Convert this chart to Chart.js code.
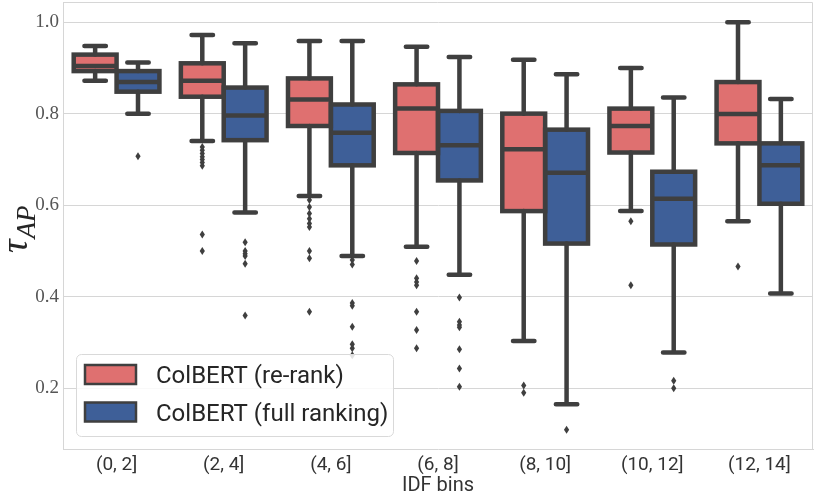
<!DOCTYPE html>
<html>
<head>
<meta charset="utf-8">
<script src="https://cdn.jsdelivr.net/npm/chart.js@4.4.1/dist/chart.umd.min.js"></script>
<style>
  html, body { margin: 0; padding: 0; background: #fff; }
  #wrap { width: 814px; height: 494px; }
</style>
</head>
<body>
<div id="wrap"><canvas id="boxChart" width="814" height="494"></canvas></div>
<script>
// IDF bins
const bins = ['(0, 2]', '(2, 4]', '(4, 6]', '(6, 8]', '(8, 10]', '(10, 12]', '(12, 14]'];
const yTicks = [0.2, 0.4, 0.6, 0.8, 1.0];
const seriesNames = ['ColBERT (re-rank)', 'ColBERT (full ranking)'];

// ColBERT (re-rank)
const rerankLo  = [0.872, 0.740, 0.620, 0.509, 0.303, 0.587, 0.565];
const rerankQ1  = [0.893, 0.837, 0.773, 0.714, 0.587, 0.715, 0.735];
const rerankMed = [0.904, 0.872, 0.831, 0.811, 0.722, 0.773, 0.799];
const rerankQ3  = [0.929, 0.910, 0.877, 0.864, 0.800, 0.811, 0.869];
const rerankHi  = [0.948, 0.972, 0.959, 0.946, 0.918, 0.900, 1.000];
const rerankOut = [
    [],
    [0.727, 0.720, 0.713, 0.706, 0.700, 0.693, 0.686, 0.536, 0.500],
    [0.611, 0.596, 0.582, 0.570, 0.560, 0.552, 0.500, 0.484, 0.367],
    [0.478, 0.440, 0.432, 0.425, 0.367, 0.327, 0.287],
    [0.206, 0.190],
    [0.565, 0.425],
    [0.466]
];

// ColBERT (full ranking)
const fullLo  = [0.800, 0.584, 0.489, 0.448, 0.165, 0.278, 0.407];
const fullQ1  = [0.848, 0.742, 0.687, 0.654, 0.516, 0.514, 0.603];
const fullMed = [0.869, 0.796, 0.758, 0.731, 0.671, 0.614, 0.687];
const fullQ3  = [0.893, 0.857, 0.820, 0.806, 0.765, 0.673, 0.735];
const fullHi  = [0.912, 0.954, 0.959, 0.924, 0.886, 0.835, 0.832];
const fullOut = [
    [0.707],
    [0.519, 0.500, 0.494, 0.489, 0.472, 0.359],
    [0.480, 0.470, 0.386, 0.380, 0.334, 0.296, 0.287, 0.272],
    [0.398, 0.345, 0.338, 0.333, 0.285, 0.243, 0.203],
    [0.109],
    [0.216, 0.200],
    []
];

const stats = [
    { lo: rerankLo, q1: rerankQ1, med: rerankMed, q3: rerankQ3, hi: rerankHi, out: rerankOut },
    { lo: fullLo, q1: fullQ1, med: fullMed, q3: fullQ3, hi: fullHi, out: fullOut }
];

const colors = ['#df7070', '#3e5f98'];
const LINE = '#3f3f3f';
const GRID = '#d6d6d6';

// whiskers, caps, outlines, medians and fliers on top of the floating bars
const boxPlugin = {
    id: 'boxPlot',
    beforeDatasetsDraw(chart) {
        const { ctx, chartArea } = chart;
        ctx.save();
        ctx.strokeStyle = GRID;
        ctx.lineWidth = 1;
        ctx.beginPath();
        ctx.moveTo(chartArea.left, chartArea.top + 0.5);
        ctx.lineTo(chartArea.right - 0.5, chartArea.top + 0.5);
        ctx.lineTo(chartArea.right - 0.5, chartArea.bottom);
        ctx.stroke();
        ctx.restore();
    },
    afterDatasetsDraw(chart) {
        const ctx = chart.ctx;
        const y = chart.scales.y;
        ctx.save();
        ctx.strokeStyle = LINE;
        ctx.fillStyle = LINE;
        ctx.lineWidth = 4.5;
        chart.data.datasets.forEach((ds, d) => {
            const s = stats[d];
            chart.getDatasetMeta(d).data.forEach((bar, i) => {
                const cx = bar.x;
                const hw = bar.width / 2;
                const pLo = y.getPixelForValue(s.lo[i]);
                const pQ1 = y.getPixelForValue(s.q1[i]);
                const pMed = y.getPixelForValue(s.med[i]);
                const pQ3 = y.getPixelForValue(s.q3[i]);
                const pHi = y.getPixelForValue(s.hi[i]);

                // whiskers + caps
                ctx.lineCap = 'round';
                ctx.beginPath();
                ctx.moveTo(cx, pQ3); ctx.lineTo(cx, pHi);
                ctx.moveTo(cx, pQ1); ctx.lineTo(cx, pLo);
                ctx.moveTo(cx - hw / 2, pHi); ctx.lineTo(cx + hw / 2, pHi);
                ctx.moveTo(cx - hw / 2, pLo); ctx.lineTo(cx + hw / 2, pLo);
                ctx.stroke();

                // box outline + median
                ctx.lineCap = 'butt';
                ctx.lineJoin = 'miter';
                ctx.strokeRect(cx - hw, pQ3, hw * 2, pQ1 - pQ3);
                ctx.beginPath();
                ctx.moveTo(cx - hw, pMed); ctx.lineTo(cx + hw, pMed);
                ctx.stroke();

                // outliers (thin diamonds)
                s.out[i].forEach(v => {
                    const py = y.getPixelForValue(v);
                    ctx.beginPath();
                    ctx.moveTo(cx, py - 4);
                    ctx.lineTo(cx + 2.6, py);
                    ctx.lineTo(cx, py + 4);
                    ctx.lineTo(cx - 2.6, py);
                    ctx.closePath();
                    ctx.fill();
                });
            });
        });
        ctx.restore();
    },
    afterDraw(chart) {
        const ctx = chart.ctx;
        ctx.save();

        // y axis title: tau_{AP}
        ctx.translate(27, 253);
        ctx.rotate(-Math.PI / 2);
        ctx.fillStyle = '#262626';
        ctx.textBaseline = 'alphabetic';
        ctx.font = 'italic 38px "Liberation Serif", serif';
        ctx.fillText('τ', 0, 0);
        const tw = ctx.measureText('τ').width;
        ctx.font = 'italic 27px "Liberation Serif", serif';
        ctx.fillText('AP', tw + 1, 8);
        ctx.setTransform(1, 0, 0, 1, 0, 0);

        // legend
        const lx = 76.5, ly = 354.5, lw = 317, lh = 82;
        ctx.beginPath();
        ctx.roundRect(lx, ly, lw, lh, 5);
        ctx.fillStyle = 'rgba(255,255,255,0.85)';
        ctx.fill();
        ctx.strokeStyle = '#d9d9d9';
        ctx.lineWidth = 1;
        ctx.stroke();
        seriesNames.forEach((name, k) => {
            const top = 365 + k * 37.5;
            ctx.fillStyle = colors[k];
            ctx.fillRect(85, top, 51, 19);
            ctx.strokeStyle = LINE;
            ctx.lineWidth = 2.5;
            ctx.strokeRect(85, top, 51, 19);
            ctx.fillStyle = '#262626';
            ctx.font = '24px Roboto, sans-serif';
            ctx.textBaseline = 'alphabetic';
            ctx.fillText(name, 156, top + 18);
        });
        ctx.restore();
    }
};

const ctx = document.getElementById('boxChart').getContext('2d');

new Chart(ctx, {
    type: 'bar',
    data: {
        labels: bins,
        datasets: [
            {
                label: seriesNames[0],
                data: rerankQ1.map((q, i) => [q, rerankQ3[i]]),
                backgroundColor: colors[0],
                borderWidth: 0,
                categoryPercentage: 0.8,
                barPercentage: 1.0
            },
            {
                label: seriesNames[1],
                data: fullQ1.map((q, i) => [q, fullQ3[i]]),
                backgroundColor: colors[1],
                borderWidth: 0,
                categoryPercentage: 0.8,
                barPercentage: 1.0
            }
        ]
    },
    options: {
        responsive: false,
        animation: false,
        layout: { autoPadding: false, padding: { top: 2, right: 1, left: 0, bottom: 0 } },
        plugins: {
            legend: { display: false },
            tooltip: { enabled: false }
        },
        scales: {
            x: {
                grid: { display: false },
                border: { display: true, color: GRID, width: 1 },
                ticks: {
                    color: '#333',
                    padding: -3,
                    font: { family: 'Roboto, sans-serif', size: 19 }
                },
                title: {
                    display: true,
                    text: 'IDF bins',
                    color: '#333',
                    padding: { top: 0, bottom: -4 },
                    font: { family: 'Roboto, sans-serif', size: 20 }
                },
                afterFit: scale => {
                    scale.height = 45;
                    scale.paddingLeft = 0;
                    scale.paddingRight = 0;
                }
            },
            y: {
                min: 0.067,
                max: 1.044,
                grid: { color: GRID, lineWidth: 1, drawTicks: false },
                border: { display: true, color: GRID, width: 1 },
                ticks: {
                    color: '#555',
                    padding: 4,
                    font: { family: '"Liberation Serif", serif', size: 19 },
                    callback: v => v.toFixed(1)
                },
                afterBuildTicks: scale => { scale.ticks = yTicks.map(v => ({ value: v })); },
                afterFit: scale => {
                    scale.width = 63;
                    scale.paddingTop = 0;
                    scale.paddingBottom = 0;
                }
            }
        }
    },
    plugins: [boxPlugin]
});
</script>
</body>
</html>
